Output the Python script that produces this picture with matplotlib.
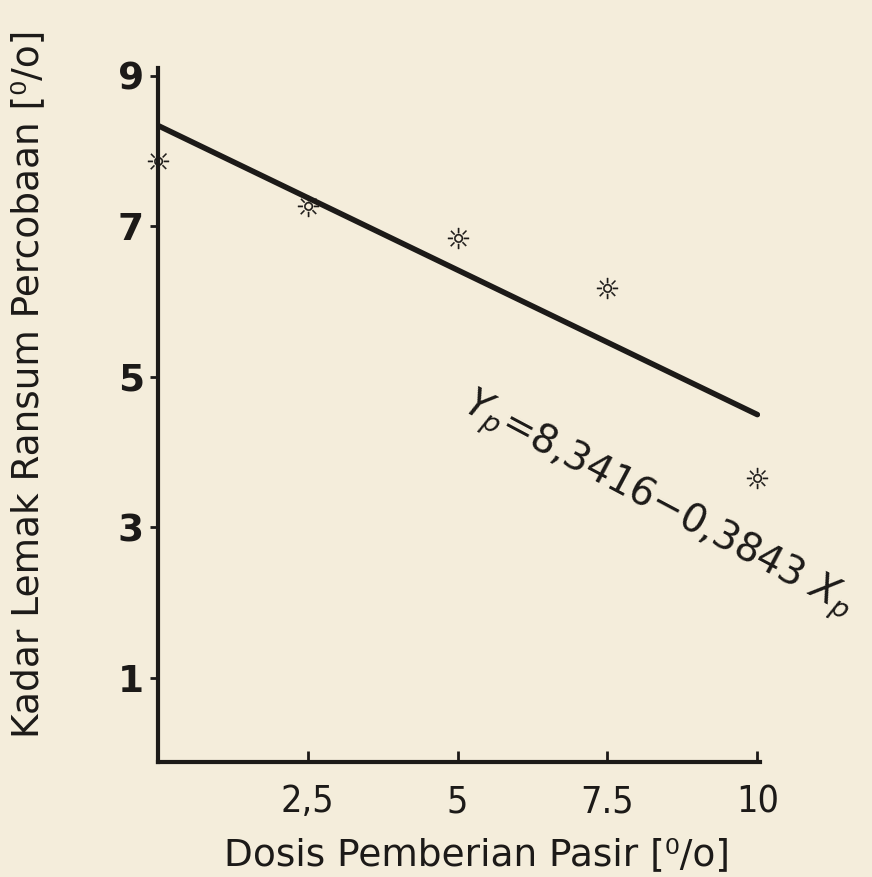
import matplotlib
matplotlib.use("Agg")
import matplotlib.pyplot as plt
import numpy as np

# data
dosis = [0, 2.5, 5, 7.5, 10]
kadar_lemak = [7.87, 7.27, 6.85, 6.18, 3.65]
intercept = 8.3416
slope = -0.3843
xticks = [2.5, 5, 7.5, 10]
xticklabels = ["2,5", "5", "7.5", "10"]
yticks = [1, 3, 5, 7, 9]
yticklabels = ["1", "3", "5", "7", "9"]

bg = "#f4eddb"
ink = "#1c1a18"
plt.rcParams['font.family'] = ['DejaVu Sans']

fig = plt.figure(figsize=(8.72, 8.77), dpi=100, facecolor=bg)
ax = fig.add_axes([0.181, 0.131, 0.691, 0.791], facecolor=bg)

xl = np.array([0, 10])
ax.plot(xl, intercept + slope * xl, color=ink, lw=4, solid_capstyle='round', zorder=3)
ax.scatter(dosis, kadar_lemak, marker='$\u263c$', s=230, color=ink, linewidths=0.2,
           zorder=4, clip_on=False)

ax.set_xlim(0, 10.05)
ax.set_ylim(-0.12, 9.1)
for s in ['top', 'right']:
    ax.spines[s].set_visible(False)
for s in ['left', 'bottom']:
    ax.spines[s].set_linewidth(3)
    ax.spines[s].set_color(ink)

ax.set_xticks(xticks)
ax.set_xticklabels(xticklabels, fontsize=27, color=ink, stretch='condensed')
ax.set_yticks(yticks)
ax.set_yticklabels(yticklabels, fontsize=27, color=ink, fontweight='bold')
ax.tick_params(axis='x', direction='in', length=8, width=2, pad=16, colors=ink)
ax.tick_params(axis='y', direction='out', length=6, width=2, pad=4, colors=ink)

ax.set_xlabel("Dosis Pemberian Pasir [\u2070/o]", fontsize=27, color=ink)
ax.xaxis.set_label_coords(0.53, -0.108)
ax.set_ylabel("Kadar Lemak Ransum Percobaan [\u2070/o]", fontsize=27, color=ink)
ax.yaxis.set_label_coords(-0.186, 0.545)

ax.text(5.05, 4.55, "$Y_p$=8,3416\u22120,3843 $X_p$",
        rotation=-28, rotation_mode='anchor', ha='left', va='baseline',
        fontsize=28, color=ink)

fig.savefig("out.png", dpi=100, facecolor=bg)
